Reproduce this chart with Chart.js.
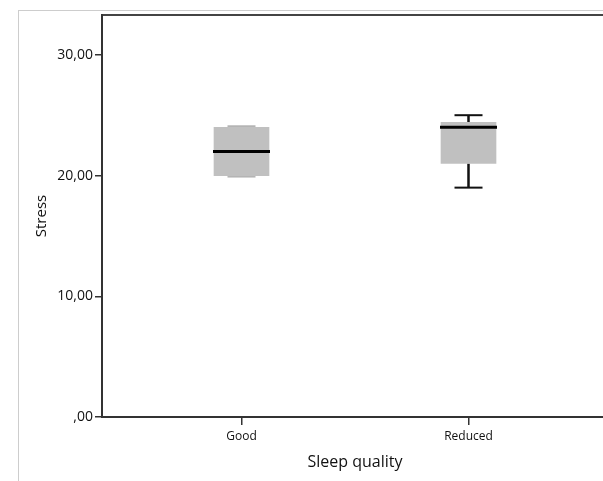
<!DOCTYPE html>
<html><head><meta charset="utf-8">
<script src="https://cdn.jsdelivr.net/npm/chart.js@4/dist/chart.umd.min.js"></script>
<style>
html,body{margin:0;padding:0;background:#fff;overflow:hidden;width:603px;height:481px}
#frame{position:absolute;left:18px;top:10px;width:700px;height:600px;border-left:1.5px solid #cdcdcd;border-top:1.5px solid #cdcdcd}
#wrap{position:absolute;left:0;top:0;width:608px;height:481px}
</style></head><body>
<div id="frame"></div>
<div id="wrap"><canvas id="c" width="608" height="481"></canvas></div>
<script>
const categories = ['Good', 'Reduced'];
const positions = [1, 2];
const minValues = [20, 19];
const q1Values = [20, 21];
const medianValues = [22, 24];
const q3Values = [24, 24.4];
const maxValues = [24, 25];
const yTickValues = [0, 10, 20, 30];
const yTickLabels = [',00', '10,00', '20,00', '30,00'];
const xTitle = 'Sleep quality';
const yTitle = 'Stress';

const FONT = "'Open Sans', 'Noto Sans', sans-serif";
const TEXT = '#111';
const BOX_W = 55, CAP_W = 28;

const boxPlugin = {
  id: 'boxplot',
  beforeDatasetsDraw(chart) {
    const {ctx, scales: {x, y}} = chart;
    ctx.save();
    positions.forEach((p, i) => {
      const cx = x.getPixelForValue(p);
      ctx.strokeStyle = '#111';
      ctx.lineWidth = 2.5;
      ctx.beginPath();
      ctx.moveTo(cx, y.getPixelForValue(q3Values[i]));
      ctx.lineTo(cx, y.getPixelForValue(maxValues[i]));
      ctx.moveTo(cx, y.getPixelForValue(q1Values[i]));
      ctx.lineTo(cx, y.getPixelForValue(minValues[i]));
      ctx.stroke();
      const caps = [[maxValues[i], q3Values[i], -1], [minValues[i], q1Values[i], 1]];
      caps.forEach(([v, edge, dir]) => {
        const inside = v === edge;
        ctx.strokeStyle = inside ? '#b4b4b4' : '#111';
        ctx.lineWidth = 2;
        const py = y.getPixelForValue(v) + (inside ? dir : 0);
        ctx.beginPath();
        ctx.moveTo(cx - CAP_W / 2, py);
        ctx.lineTo(cx + CAP_W / 2, py);
        ctx.stroke();
      });
    });
    ctx.restore();
  },
  afterDatasetsDraw(chart) {
    const {ctx, scales: {x, y}} = chart;
    ctx.save();
    positions.forEach((p, i) => {
      const cx = x.getPixelForValue(p);
      const py = y.getPixelForValue(medianValues[i]);
      ctx.strokeStyle = '#000';
      ctx.lineWidth = 3;
      ctx.beginPath();
      ctx.moveTo(cx - BOX_W / 2 - 1, py);
      ctx.lineTo(cx + BOX_W / 2 + 1, py);
      ctx.stroke();
    });
    ctx.restore();
  }
};

new Chart(document.getElementById('c'), {
  type: 'bar',
  data: {
    datasets: [{
      data: positions.map((p, i) => ({x: p, y: [q1Values[i], q3Values[i]]})),
      backgroundColor: '#c0c0c0',
      borderWidth: 0,
      barThickness: BOX_W
    }]
  },
  options: {
    responsive: false,
    animation: false,
    layout: {padding: {left: 0, top: 15, right: 0, bottom: 0}},
    plugins: {legend: {display: false}, tooltip: {enabled: false}},
    scales: {
      x: {
        type: 'linear', position: 'bottom', offset: false,
        min: 0.3855, max: 2.6145,
        afterBuildTicks: s => { s.ticks = positions.map(v => ({value: v})); },
        afterFit: s => { s.height = 64; },
        ticks: {
          callback: v => categories[positions.indexOf(v)],
          font: {family: FONT, size: 12}, color: TEXT, padding: 4, maxRotation: 0, autoSkip: false
        },
        grid: {display: true, offset: false, drawOnChartArea: false, drawTicks: true, tickLength: 8, color: '#333', lineWidth: 1.5},
        border: {display: true, color: '#333', width: 2},
        title: {display: true, text: xTitle, font: {family: FONT, size: 16}, color: TEXT, padding: {top: 0, bottom: 9}}
      },
      x2: {
        type: 'linear', position: 'top', min: 0, max: 1, offset: false,
        afterFit: s => { s.height = 0; },
        ticks: {display: false},
        grid: {display: false},
        border: {display: true, color: '#444', width: 2}
      },
      y: {
        min: 0, max: 33.3,
        afterBuildTicks: s => { s.ticks = yTickValues.map(v => ({value: v})); },
        afterFit: s => { s.width = 102; },
        ticks: {
          callback: v => yTickLabels[yTickValues.indexOf(v)],
          font: {family: FONT, size: 14}, color: TEXT, padding: 2
        },
        grid: {display: true, drawOnChartArea: false, drawTicks: true, tickLength: 7, color: '#333', lineWidth: 1.5},
        border: {display: true, color: '#333', width: 2},
        title: {display: true, text: yTitle, font: {family: FONT, size: 15}, color: TEXT, padding: {top: 32.5, bottom: 0}}
      }
    }
  },
  plugins: [boxPlugin]
});
</script>
</body></html>
